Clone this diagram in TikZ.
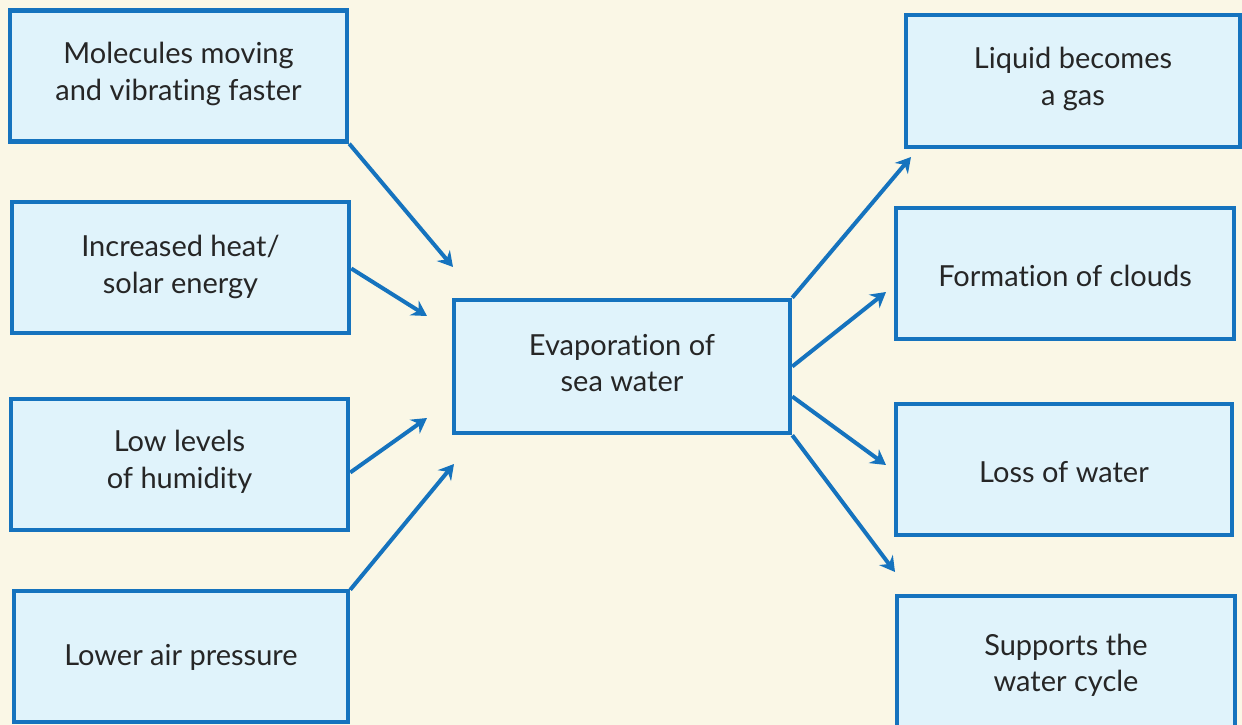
\documentclass[tikz,border=0pt]{standalone}
\usepackage{fontspec}
\setmainfont{Lato}[Ligatures=NoCommon]
\usetikzlibrary{arrows.meta}
\definecolor{bgcream}{RGB}{250,247,230}
\definecolor{boxfill}{RGB}{224,243,251}
\definecolor{edgeblue}{RGB}{21,115,190}
\definecolor{inkgray}{RGB}{38,38,38}
\tikzset{
  box/.style={draw=edgeblue, fill=boxfill, line width=4.5pt, inner sep=0pt},
  lbl/.style={text=inkgray, align=center, inner sep=0pt,
    font=\fontsize{29}{36.5}\selectfont},
  link/.style={draw=edgeblue, line width=4pt,
    -{Stealth[length=15pt,width=17pt,inset=5pt]}}
}
\begin{document}
\begin{tikzpicture}[x=1pt,y=-1pt]
  \fill[bgcream] (0,0) rectangle (1242,725);
  \useasboundingbox (0,0) rectangle (1242,725);

  % causes
  \node[box, minimum width=337pt, minimum height=131pt] (mol) at (178.5,76) {};
  \node[box, minimum width=337pt, minimum height=131pt] (heat) at (180.5,267.5) {};
  \node[box, minimum width=337pt, minimum height=131pt] (hum) at (179.5,464.5) {};
  \node[box, minimum width=334pt, minimum height=131pt] (pres) at (181,656.5) {};

  % process
  \node[box, minimum width=336pt, minimum height=133pt] (evap) at (622,366.5) {};

  % effects
  \node[box, minimum width=334pt, minimum height=132pt] (gas) at (1073,81) {};
  \node[box, minimum width=338pt, minimum height=131pt] (cloud) at (1065,273.5) {};
  \node[box, minimum width=336pt, minimum height=131pt] (loss) at (1064,469.5) {};
  \node[box, minimum width=338pt, minimum height=150pt] (cyc) at (1066,671) {};

  % labels, centred on their text lines
  \node[lbl] (molT) at ([yshift=2pt]mol.center) {Molecules moving\\and vibrating faster};
  \node[lbl] (heatT) at ([yshift=0.5pt]heat.center) {Increased heat/\\solar energy};
  \node[lbl] (humT) at ([yshift=2.5pt]hum.center) {Low levels\\of humidity};
  \node[lbl] (presT) at ([yshift=-1pt]pres.center) {Lower air pressure};
  \node[lbl] (evapT) at ([yshift=3.5pt]evap.center) {Evaporation of\\sea water};
  \node[lbl] (gasT) at ([yshift=2pt]gas.center) {Liquid becomes\\a gas};
  \node[lbl] (cloudT) at ([yshift=-2.5pt]cloud.center) {Formation of clouds};
  \node[lbl] (lossT) at ([yshift=-2.5pt]loss.center) {Loss of water};
  \node[lbl] (cycT) at ([yshift=5.5pt]cyc.center) {Supports the\\water cycle};

  % arrow tips
  \coordinate (t1) at (453,267);
  \coordinate (t2) at (427,316);
  \coordinate (t3) at (427,418);
  \coordinate (t4) at (454,464);
  \coordinate (t5) at (911,157);
  \coordinate (t6) at (886,292);
  \coordinate (t7) at (886,465);
  \coordinate (t8) at (895,572);

  \draw[link] (mol.south east) -- (t1);
  \draw[link] ([yshift=-1pt]heat.east) -- (t2);
  \draw[link] ([yshift=-8pt]hum.east) -- (t3);
  \draw[link] ([yshift=-1pt]pres.north east) -- (t4);

  \draw[link] (evap.north east) -- (t5);
  \draw[link] (evap.east) -- (t6);
  \draw[link] ([yshift=-30pt]evap.east) -- (t7);
  \draw[link] (evap.south east) -- (t8);
\end{tikzpicture}
\end{document}
